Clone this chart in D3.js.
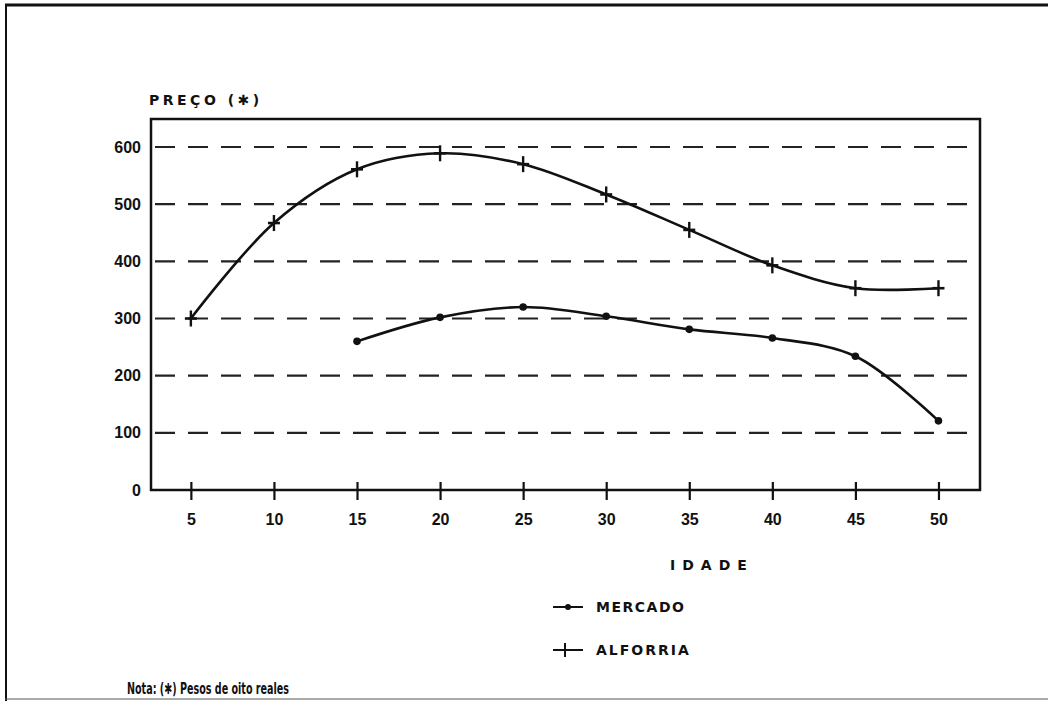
<!DOCTYPE html>
<html>
<head>
<meta charset="utf-8">
<script src="https://cdn.jsdelivr.net/npm/d3@7"></script>
<style>
  body { margin: 0; background: #fff; }
  text { font-family: "DejaVu Sans", sans-serif; font-weight: bold; fill: #111; }
</style>
</head>
<body>
<div class="chart"></div>
<script>
// ages on the x axis
var ages = [5, 10, 15, 20, 25, 30, 35, 40, 45, 50];
// price for manumission (alforria), one per age
var alforria = [300, 467, 561, 589, 570, 517, 455, 393, 353, 353];
// market price, starts at age 15
var mercadoAges = [15, 20, 25, 30, 35, 40, 45, 50];
var mercado = [260, 302, 320, 304, 281, 266, 234, 121];
var yTicks = [0, 100, 200, 300, 400, 500, 600];

var W = 1048, H = 701;
var pLeft = 151, pRight = 980, pTop = 119, pBottom = 490;

var svg = d3.select(".chart").append("svg")
    .attr("width", W)
    .attr("height", H);

// outer frame of the scanned page
svg.append("line").attr("x1", 5).attr("x2", W).attr("y1", 5).attr("y2", 5)
    .attr("stroke", "#111").attr("stroke-width", 3);
svg.append("line").attr("x1", 6).attr("x2", 6).attr("y1", 5).attr("y2", H)
    .attr("stroke", "#111").attr("stroke-width", 2);
svg.append("line").attr("x1", 5).attr("x2", W).attr("y1", 699).attr("y2", 699)
    .attr("stroke", "#555").attr("stroke-width", 1);

var x = d3.scaleLinear().domain([2.6, 52.5]).range([pLeft, pRight]);
var y = d3.scaleLinear().domain([0, 649]).range([pBottom, pTop]);

// dashed gridlines
svg.selectAll(".grid")
  .data(yTicks.filter(function(d){ return d > 0; }))
  .enter().append("line")
    .attr("class", "grid")
    .attr("x1", pLeft + 4).attr("x2", pRight)
    .attr("y1", function(d){ return y(d); })
    .attr("y2", function(d){ return y(d); })
    .attr("stroke", "#222")
    .attr("stroke-width", 2.2)
    .attr("stroke-dasharray", "20,13");

// plot box
svg.append("rect")
    .attr("x", pLeft).attr("y", pTop)
    .attr("width", pRight - pLeft).attr("height", pBottom - pTop)
    .attr("fill", "none").attr("stroke", "#111").attr("stroke-width", 2.5);

// x axis ticks cross the baseline
var xAxis = d3.axisBottom(x).tickValues(ages).tickSize(0).tickPadding(24);
var gx = svg.append("g").attr("transform", "translate(0," + pBottom + ")").call(xAxis);
gx.select(".domain").remove();
gx.selectAll(".tick").append("line")
    .attr("y1", -8).attr("y2", 10)
    .attr("stroke", "#111").attr("stroke-width", 2.2);
gx.selectAll(".tick text")
    .style("font-family", "Liberation Sans, sans-serif")
    .style("font-size", "16px").attr("fill", "#111");

var yAxis = d3.axisLeft(y).tickValues(yTicks).tickSize(0).tickPadding(10);
var gy = svg.append("g").attr("transform", "translate(" + pLeft + ",0)").call(yAxis);
gy.select(".domain").remove();
gy.selectAll(".tick text")
    .style("font-family", "Liberation Sans, sans-serif")
    .style("font-size", "16px").attr("fill", "#111");

svg.append("text")
    .attr("x", 149).attr("y", 105)
    .style("font-size", "14px").style("letter-spacing", "3.5px")
    .text("PREÇO (✱)");

svg.append("text")
    .attr("x", 670).attr("y", 570)
    .style("font-size", "14px").style("letter-spacing", "7px")
    .text("IDADE");

var line = d3.line()
    .x(function(d){ return x(d[0]); })
    .y(function(d){ return y(d[1]); })
    .curve(d3.curveCatmullRom.alpha(0.5));

var alfData = ages.map(function(a, i){ return [a, alforria[i]]; });
var merData = mercadoAges.map(function(a, i){ return [a, mercado[i]]; });

svg.append("path").datum(alfData)
    .attr("d", line).attr("fill", "none")
    .attr("stroke", "#111").attr("stroke-width", 2.6);
svg.append("path").datum(merData)
    .attr("d", line).attr("fill", "none")
    .attr("stroke", "#111").attr("stroke-width", 2.6);

// + markers for alforria
var plus = svg.selectAll(".plus").data(alfData).enter().append("g")
    .attr("transform", function(d){ return "translate(" + x(d[0]) + "," + y(d[1]) + ")"; });
plus.append("line").attr("y1", -8).attr("y2", 8)
    .attr("stroke", "#111").attr("stroke-width", 2.4);
plus.append("line").attr("x1", -6).attr("x2", 6)
    .attr("stroke", "#111").attr("stroke-width", 2.6);

// dots for mercado
svg.selectAll(".dot").data(merData).enter().append("circle")
    .attr("cx", function(d){ return x(d[0]); })
    .attr("cy", function(d){ return y(d[1]); })
    .attr("r", 3.8).attr("fill", "#111");

// legend
var legend = svg.append("g").attr("transform", "translate(553,0)");
legend.append("line").attr("x1", 0).attr("x2", 30).attr("y1", 607).attr("y2", 607)
    .attr("stroke", "#111").attr("stroke-width", 2);
legend.append("circle").attr("cx", 15).attr("cy", 607).attr("r", 3).attr("fill", "#111");
legend.append("text").attr("x", 43).attr("y", 612)
    .style("font-size", "14px").style("letter-spacing", "1.5px").text("MERCADO");

legend.append("line").attr("x1", 0).attr("x2", 30).attr("y1", 650).attr("y2", 650)
    .attr("stroke", "#111").attr("stroke-width", 2);
legend.append("line").attr("x1", 12).attr("x2", 12).attr("y1", 643).attr("y2", 657)
    .attr("stroke", "#111").attr("stroke-width", 2);
legend.append("text").attr("x", 43).attr("y", 655)
    .style("font-size", "14px").style("letter-spacing", "2px").text("ALFORRIA");

svg.append("text")
    .attr("x", 127).attr("y", 694)
    .attr("textLength", 162).attr("lengthAdjust", "spacingAndGlyphs")
    .style("font-size", "15px")
    .text("Nota: (✱) Pesos de oito reales");
</script>
</body>
</html>
